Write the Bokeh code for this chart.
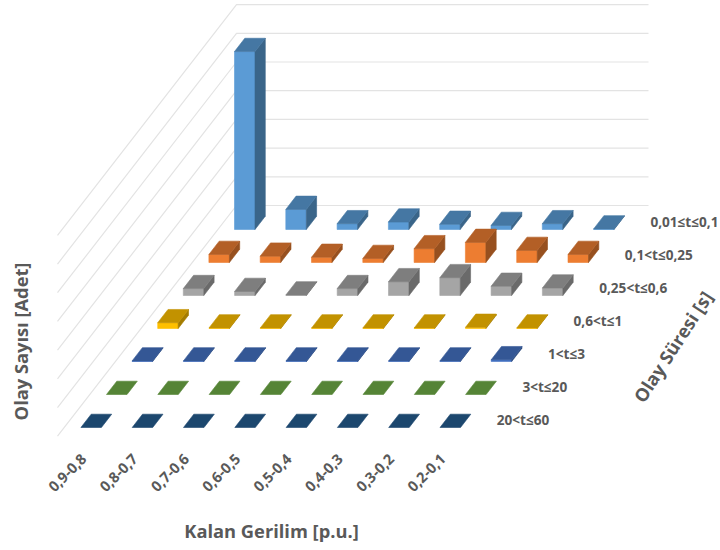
import math
from bokeh.plotting import figure
from bokeh.models import ColumnDataSource
from bokeh.core.properties import value
from bokeh.embed import file_html
from bokeh.resources import INLINE

# Residual-voltage bands along the floor's width
categories = ["0,9-0,8", "0,8-0,7", "0,7-0,6", "0,6-0,5", "0,5-0,4", "0,4-0,3", "0,3-0,2", "0,2-0,1"]
# Duration classes from the back row to the front row
durations = ["0,01≤t≤0,1", "0,1<t≤0,25", "0,25<t≤0,6", "0,6<t≤1", "1<t≤3", "3<t≤20", "20<t≤60"]

d_001_01 = [310, 35, 10, 13, 9, 7, 10, 1]
d_01_025 = [14, 11, 9, 7, 24, 35, 21, 14]
d_025_06 = [12, 7, 1, 12, 24, 31, 16, 13]
d_06_1 = [10, 1, 1, 1, 1, 1, 2, 1]
d_1_3 = [1, 1, 1, 1, 1, 1, 1, 3]
d_3_20 = [0, 0, 0, 0, 0, 0, 0, 0]
d_20_60 = [0, 0, 0, 0, 0, 0, 0, 0]
series = [d_001_01, d_01_025, d_025_06, d_06_1, d_1_3, d_3_20, d_20_60]

# Front, top and side shades per duration class
front = ["#5B9BD5", "#ED7D31", "#A5A5A5", "#FFC000", "#4472C4", "#70AD47", "#255E91"]
top = ["#4577A3", "#B35F26", "#7E7E7E", "#C29200", "#345795", "#558436", "#1C476E"]
side = ["#3A6589", "#97501F", "#6A6A6A", "#A47C00", "#2C4A7E", "#48702D", "#183C5D"]

value_ticks = [0, 50, 100, 150, 200, 250, 300, 350]

# Oblique projection of (column, row, value) onto the page
COL_STEP = 51.3
ROW_DX, ROW_DY = -25.6, 33.0
ORIGIN_X, ORIGIN_Y = 234.0, 229.0
BAR_W, BAR_DX, BAR_DY = 20.5, 10.3, -13.3
PX_PER_UNIT = 28.7 / 50


def project(col, row, val=0.0):
    return (ORIGIN_X + col * COL_STEP + row * ROW_DX,
            ORIGIN_Y + row * ROW_DY - val * PX_PER_UNIT)


p = figure(width=720, height=550, x_range=(0, 720), y_range=(550, 0),
           output_backend="svg", toolbar_location=None, min_border=0)
p.axis.visible = False
p.grid.visible = False
p.outline_line_color = None

# Wall gridlines: one run along the back wall and one down the side wall
WALL_X, WALL_Y0 = 236.0, 205.0
RIGHT_X, LEFT_X = 648.0, 57.0
wall_xs, wall_ys = [], []
for t in value_ticks:
    y = WALL_Y0 - t * PX_PER_UNIT
    wall_xs.append([LEFT_X, WALL_X, RIGHT_X])
    wall_ys.append([y + (WALL_X - LEFT_X) * ROW_DY / -ROW_DX, y, y])
p.multi_line(wall_xs, wall_ys, line_color="#E3E3E3", line_width=1.2)

# Bars, painted from the back row forward
faces = {"xs": [], "ys": [], "color": []}
for row, vals in enumerate(series):
    for col, v in enumerate(vals):
        x, y0 = project(col, row)
        _, y1 = project(col, row, v)
        if v > 0:
            faces["xs"].append([x, x + BAR_W, x + BAR_W, x])
            faces["ys"].append([y0, y0, y1, y1])
            faces["color"].append(front[row])
            faces["xs"].append([x + BAR_W, x + BAR_W + BAR_DX, x + BAR_W + BAR_DX, x + BAR_W])
            faces["ys"].append([y0, y0 + BAR_DY, y1 + BAR_DY, y1])
            faces["color"].append(side[row])
        faces["xs"].append([x, x + BAR_W, x + BAR_W + BAR_DX, x + BAR_DX])
        faces["ys"].append([y1, y1, y1 + BAR_DY, y1 + BAR_DY])
        faces["color"].append(top[row])
p.patches("xs", "ys", source=ColumnDataSource(faces), fill_color="color",
          line_color="color", line_width=0.6)

LABEL = "#595959"
FONT = value("Open Sans")

# Duration class labels beside each row
lx = [project(8, r)[0] + 5.5 for r in range(len(durations))]
ly = [project(8, r)[1] - 8 for r in range(len(durations))]
p.text(lx, ly, text=durations, text_font=FONT, text_font_style="bold",
       text_font_size="13.6px", text_color=LABEL, text_align="left", text_baseline="middle")

# Voltage band labels under the front row
cx = [project(c, 6)[0] + 3 for c in range(len(categories))]
cy = [project(c, 6)[1] + 29 for c in range(len(categories))]
p.text(cx, cy, text=categories, text_font=FONT, text_font_style="bold",
       text_font_size="14.6px", text_color=LABEL, text_align="right", text_baseline="middle",
       angle=math.pi / 4)

# Axis titles
p.text([271], [530], text=["Kalan Gerilim [p.u.]"], text_font=FONT, text_font_style="bold",
       text_font_size="18.3px", text_color=LABEL, text_align="center", text_baseline="middle")
p.text([20], [341], text=["Olay Sayısı [Adet]"], text_font=FONT, text_font_style="bold",
       text_font_size="18.3px", text_color=LABEL, text_align="center", text_baseline="middle",
       angle=math.pi / 2)
p.text([672], [346], text=["Olay Süresi [s]"], text_font=FONT, text_font_style="bold",
       text_font_size="18.3px", text_color=LABEL, text_align="center", text_baseline="middle",
       angle=math.radians(57))

open("out.html", "w").write(file_html(p, INLINE))
